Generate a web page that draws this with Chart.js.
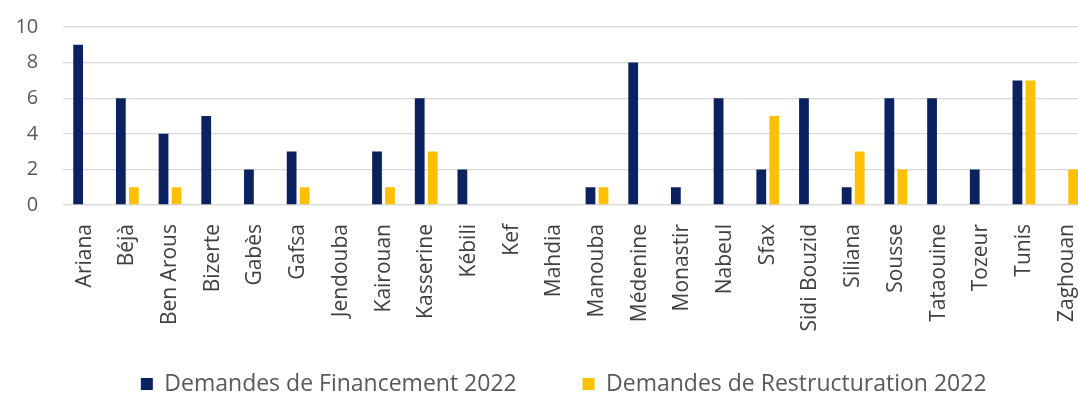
<!DOCTYPE html>
<html>
<head>
<meta charset="utf-8">
<script src="https://cdn.jsdelivr.net/npm/chart.js@4.4.0/dist/chart.umd.min.js"></script>
<style>
  html, body { margin: 0; padding: 0; background: #ffffff; overflow: hidden; }
  #wrap { position: relative; width: 1124px; height: 394px; }
</style>
</head>
<body>
<div id="wrap"><canvas id="chart" width="1124" height="394"></canvas></div>
<script>
// Gouvernorats (x-axis categories)
const gouvernorats = [
  "Ariana", "Béjà", "Ben Arous", "Bizerte", "Gabès", "Gafsa", "Jendouba",
  "Kairouan", "Kasserine", "Kébili", "Kef", "Mahdia", "Manouba", "Médenine",
  "Monastir", "Nabeul", "Sfax", "Sidi Bouzid", "Siliana", "Sousse",
  "Tataouine", "Tozeur", "Tunis", "Zaghouan"
];

// Number of requests per gouvernorat
const financement2022 = [9, 6, 4, 5, 2, 3, 0, 3, 6, 2, 0, 0, 1, 8, 1, 6, 2, 6, 1, 6, 6, 2, 7, 0];
const restructuration2022 = [0, 1, 1, 0, 0, 1, 0, 1, 3, 0, 0, 0, 1, 0, 0, 0, 5, 0, 3, 2, 0, 0, 7, 2];

// Y axis range and step
const yMin = 0;
const yMax = 10;
const yStep = 2;

const seriesNames = ["Demandes de Financement 2022", "Demandes de Restructuration 2022"];

const NAVY = "#0b2160";
const GOLD = "#ffc000";
const GRID = "#d9d9d9";
const FONT = "'Open Sans', 'Noto Sans', sans-serif";

// spacing appended to legend entries (gap between them, centring of the row)
const NBSP = "\u00a0";
const legendTail = [NBSP.repeat(5), NBSP.repeat(4)];

new Chart(document.getElementById("chart"), {
  type: "bar",
  data: {
    labels: gouvernorats,
    datasets: [
      {
        label: seriesNames[0],
        data: financement2022,
        backgroundColor: NAVY,
        borderWidth: 0,
        categoryPercentage: 0.61,
        barPercentage: 0.75
      },
      {
        label: seriesNames[1],
        data: restructuration2022,
        backgroundColor: GOLD,
        borderWidth: 0,
        categoryPercentage: 0.61,
        barPercentage: 0.75
      }
    ]
  },
  options: {
    responsive: false,
    animation: false,
    events: [],
    layout: { padding: { left: 0, right: 36, top: 27, bottom: -11.5 } },
    scales: {
      x: {
        grid: { display: false, drawTicks: false },
        border: { display: true, color: GRID, width: 1.3 },
        ticks: {
          autoSkip: false,
          minRotation: 90,
          maxRotation: 90,
          padding: 19,
          color: "#404040",
          font: { family: FONT, size: 21 }
        },
        afterFit: (scale) => { scale.height = 131.5; }
      },
      y: {
        min: yMin,
        max: yMax,
        grid: {
          color: GRID,
          lineWidth: 1.3,
          drawTicks: true,
          tickLength: 25,
          tickColor: "rgba(0,0,0,0)"
        },
        border: { display: false },
        ticks: {
          stepSize: yStep,
          padding: 0,
          color: "#595959",
          font: { family: FONT, size: 20 }
        },
        afterFit: (scale) => { scale.width = 63.3; }
      }
    },
    plugins: {
      tooltip: { enabled: false },
      legend: {
        position: "bottom",
        fullSize: false,
        labels: {
          boxWidth: 12,
          boxHeight: 12,
          padding: 36,
          color: "#595959",
          font: { family: FONT, size: 23 },
          generateLabels: (chart) => {
            const items = Chart.defaults.plugins.legend.labels.generateLabels(chart);
            items.forEach((item, i) => { item.text = item.text + legendTail[i]; });
            return items;
          }
        }
      }
    }
  }
});
</script>
</body>
</html>
